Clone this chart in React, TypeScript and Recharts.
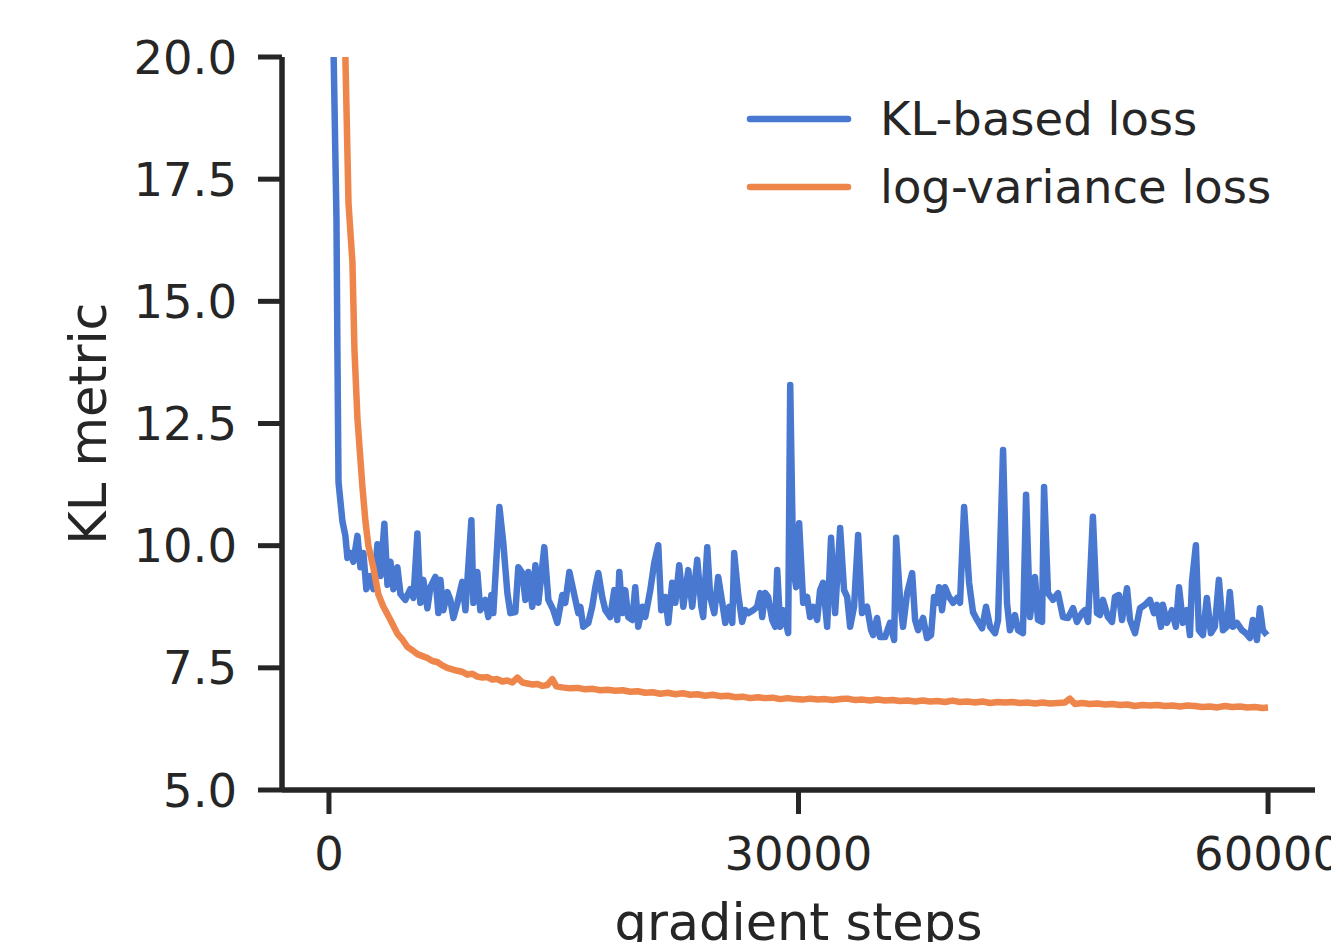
import { LineChart, Line, XAxis, YAxis, Legend } from "recharts";

const klSteps = [
  60, 290, 480, 540, 610, 860, 1050, 1180, 1370, 1560, 1820, 2010, 2200, 2390, 2650, 2840, 3100, 3290, 3540, 3740,
  3930, 4120, 4370, 4570, 4880, 5200, 5400, 5650, 5840, 6030, 6290, 6480, 6800, 6990, 7120, 7310, 7570, 7760, 7950,
  8210, 8520, 8720, 9100, 9230, 9480, 9670, 9990, 10180, 10380, 10500, 10890, 11140, 11400, 11590, 11910, 12100,
  12360, 12550, 12740, 12990, 13190, 13380, 13760, 14020, 14340, 14590, 14910, 15100, 15360, 15610, 15930, 16060,
  16250, 16570, 16820, 17020, 17210, 17460, 17660, 17970, 18230, 18420, 18550, 18740, 18930, 19120, 19380, 19570,
  19760, 20020, 20210, 20530, 20780, 21040, 21230, 21490, 21680, 21930, 22130, 22380, 22640, 22960, 23210, 23530,
  23790, 23910, 24170, 24360, 24620, 24870, 25130, 25320, 25570, 25770, 25890, 26150, 26400, 26600, 26790, 27110,
  27360, 27550, 27680, 27870, 28060, 28320, 28510, 28640, 28830, 29020, 29340, 29470, 29660, 29850, 30040, 30300,
  30550, 30740, 30940, 31190, 31380, 31570, 31830, 32080, 32340, 32660, 32910, 33110, 33300, 33550, 33810, 34060,
  34380, 34640, 34770, 35020, 35210, 35530, 35850, 36110, 36240, 36490, 36680, 36940, 37260, 37450, 37640, 37960,
  38210, 38470, 38660, 38850, 38980, 39170, 39360, 39620, 39880, 40130, 40320, 40580, 40900, 41150, 41410, 41730,
  41980, 42240, 42560, 42750, 43070, 43320, 43510, 43830, 44030, 44340, 44540, 44790, 45110, 45300, 45560, 45690,
  45940, 46260, 46580, 46900, 47220, 47540, 47790, 48110, 48300, 48500, 48810, 49070, 49260, 49450, 49770, 50030,
  50220, 50470, 50670, 50990, 51180, 51500, 51820, 52140, 52450, 52710, 52900, 53160, 53280, 53540, 53860, 54110,
  54310, 54560, 54820, 55010, 55140, 55390, 55580, 55840, 56090, 56350, 56600, 56860, 57120, 57370, 57560, 57750,
  58010, 58330, 58580, 58840, 59030, 59290, 59480, 59670, 59930,
];
const klValues = [
  50, 20.2, 16.7, 14.0, 11.3, 10.5, 10.2, 9.75, 9.85, 9.67, 10.2, 9.56, 9.85, 9.11, 9.38, 9.11, 10.03, 9.38, 10.45, 9.2,
  9.67, 9.11, 9.56, 9.01, 8.89, 9.11, 8.93, 10.25, 8.83, 9.3, 8.72, 9.15, 9.36, 8.62, 9.3, 8.68, 9.05, 8.89, 8.52,
  8.83, 9.26, 8.68, 10.52, 8.83, 9.46, 8.68, 8.89, 8.54, 8.99, 8.62, 10.79, 10.05, 9.03, 8.62, 8.64, 9.56,
  9.44, 8.89, 9.46, 8.75, 9.6, 8.83, 9.97, 8.89, 8.68, 8.42, 8.99, 8.83, 9.46, 9.09, 8.62, 8.75,
  8.34, 8.42, 8.75, 9.15, 9.44, 8.95, 8.68, 8.54, 9.09, 8.48, 9.46, 8.62, 9.09, 8.54, 8.48, 9.15,
  8.34, 8.75, 8.54, 9.09, 9.64, 10.01, 8.68, 8.95, 8.42, 9.24, 8.83, 9.6, 8.75, 9.5, 8.75, 9.71,
  8.75, 8.54, 9.97, 8.95, 8.62, 9.36, 8.83, 8.42, 8.75, 8.42, 9.85, 8.99, 8.44, 8.68, 8.62, 8.68,
  8.75, 9.03, 8.54, 9.03, 8.95, 8.48, 8.34, 9.5, 8.34, 8.68, 8.21, 13.29, 9.56, 9.15, 10.46, 8.83,
  8.95, 8.54, 8.75, 8.48, 9.09, 9.24, 8.34, 10.16, 8.62, 10.36, 9.09, 8.95, 8.34, 8.75, 10.22, 8.62,
  8.75, 8.27, 8.17, 8.52, 8.13, 8.13, 8.42, 8.07, 10.16, 8.89, 8.34, 9.03, 9.44, 8.48, 8.27, 8.52,
  8.11, 8.17, 8.95, 8.83, 9.15, 8.68, 9.15, 8.95, 8.83, 8.93, 8.83, 10.79, 9.24, 8.64, 8.48, 8.31,
  8.75, 8.34, 8.21, 8.48, 11.96, 8.83, 8.27, 8.58, 8.27, 8.21, 11.04, 8.54, 9.36, 8.48, 8.44, 11.2,
  9.03, 8.89, 9.03, 8.54, 8.52, 8.72, 8.44, 8.62, 8.68, 8.44, 10.59, 8.62, 8.58, 8.89, 8.54, 8.44,
  8.95, 8.99, 8.48, 9.13, 8.48, 8.21, 8.72, 8.79, 8.89, 8.62, 8.79, 8.34, 8.79, 8.42, 8.68, 8.34,
  9.15, 8.42, 8.68, 8.17, 9.26, 10.01, 8.27, 8.17, 8.93, 8.21, 8.34, 9.3, 8.27, 8.34, 9.05, 8.34,
  8.42, 8.27, 8.21, 8.11, 8.48, 8.07, 8.72, 8.27, 8.17,
];

const lvSteps = [
  800, 1050, 1250, 1500, 1630, 1820, 2140, 2330, 2520, 2840, 3160, 3480, 3930, 4370, 4690, 5010, 5330, 5650, 5970,
  6290, 6610, 6920, 7240, 7560, 7880, 8200, 8520, 8840, 9160, 9480, 9800, 10120, 10440, 10760, 11080, 11400, 11720,
  12040, 12360, 12680, 13000, 13320, 13640, 13960, 14270, 14530, 14900, 15420, 15900, 16380, 16860, 17330, 17810,
  18290, 18770, 19250, 19730, 20210, 20690, 21170, 21650, 22130, 22600, 23080, 23560, 24040, 24520, 25000, 25480,
  25960, 26430, 26910, 27390, 27870, 28350, 28830, 29310, 29790, 30270, 30740, 31220, 31700, 32180, 32660, 33140,
  33620, 34100, 34570, 35050, 35530, 36010, 36490, 36970, 37450, 37930, 38410, 38890, 39360, 39840, 40320, 40800,
  41280, 41760, 42240, 42720, 43200, 43670, 44150, 44630, 45110, 45590, 46070, 46550, 47030, 47340, 47660, 48140,
  48620, 49100, 49580, 50060, 50530, 51010, 51490, 51970, 52450, 52930, 53410, 53890, 54370, 54840, 55320, 55800,
  56280, 56760, 57240, 57720, 58200, 58680, 59160, 59640, 60000,
];
const lvValues = [
  28, 20.0, 17.0, 15.8, 14.0, 12.6, 11.2, 10.5, 10.0, 9.55, 9.0, 8.75, 8.48, 8.2, 8.08, 7.93, 7.86, 7.78, 7.74,
  7.7, 7.64, 7.62, 7.55, 7.5, 7.47, 7.44, 7.42, 7.36, 7.38, 7.32, 7.3, 7.31, 7.26, 7.27, 7.22, 7.24, 7.2,
  7.3, 7.2, 7.18, 7.16, 7.17, 7.13, 7.15, 7.27, 7.12, 7.1, 7.08, 7.09, 7.06, 7.07, 7.04, 7.05,
  7.03, 7.04, 7.01, 7.02, 6.99, 7.0, 6.97, 6.99, 6.96, 6.98, 6.95, 6.96, 6.93, 6.95, 6.92, 6.93,
  6.9, 6.91, 6.88, 6.9, 6.88, 6.89, 6.86, 6.88, 6.86, 6.85, 6.87, 6.85, 6.86, 6.84, 6.86, 6.87,
  6.84, 6.85, 6.83, 6.85, 6.83, 6.84, 6.82, 6.83, 6.81, 6.83, 6.81, 6.82, 6.8, 6.83, 6.8, 6.81,
  6.79, 6.81, 6.78, 6.8, 6.79, 6.8, 6.78, 6.79, 6.77, 6.79, 6.77, 6.78, 6.79, 6.87, 6.76, 6.78,
  6.76, 6.77, 6.75, 6.76, 6.74, 6.75, 6.72, 6.74, 6.73, 6.74, 6.72, 6.73, 6.71, 6.73, 6.72, 6.7,
  6.71, 6.69, 6.72, 6.7, 6.71, 6.69, 6.7, 6.68, 6.69,
];

const xTicks = [0, 30000, 60000];
const yTicks = [5, 7.5, 10, 12.5, 15, 17.5, 20];

const klData = klSteps.map((step, i) => ({ step, value: klValues[i] }));
const lvData = lvSteps.map((step, i) => ({ step, value: lvValues[i] }));

const FONT = "'DejaVu Sans', sans-serif";
const INK = "#262626";
const LINE_W = 6.5;

const renderLegend = (props: any) => {
  const items = props.payload || [];
  return (
    <div style={{ position: "relative", width: 580, height: 230, fontFamily: FONT, fontSize: 46.5, color: INK }}>
      {items.map((entry: any, i: number) => (
        <div
          key={entry.value}
          style={{ position: "absolute", left: 0, top: 89 + i * 68, height: 60, display: "flex", whiteSpace: "nowrap" }}
        >
          <svg width={110} height={60} style={{ display: "block" }}>
            <line x1={5} x2={103} y1={30} y2={30} stroke={entry.color} strokeWidth={LINE_W} strokeLinecap="round" />
          </svg>
          <span style={{ marginLeft: 25, lineHeight: "60px" }}>{entry.value}</span>
        </div>
      ))}
    </div>
  );
};

const renderYLabel = (props: any) => {
  const vb = props.viewBox;
  const cx = 106;
  const cy = vb.y + vb.height / 2;
  return (
    <text x={cx} y={cy} transform={`rotate(-90 ${cx} ${cy})`} textAnchor="middle" fontFamily={FONT} fontSize={51} fill={INK}>
      KL metric
    </text>
  );
};

const renderXLabel = (props: any) => {
  const vb = props.viewBox;
  return (
    <text x={vb.x + vb.width / 2} y={940} textAnchor="middle" fontFamily={FONT} fontSize={51} fill={INK}>
      gradient steps
    </text>
  );
};

export default function App() {
  const tickStyle = { fontSize: 46.5, fill: INK, fontFamily: FONT };
  return (
    <div style={{ width: 1331, height: 942, background: "#fff" }}>
      <style>{"body{margin:0;overflow:hidden;} .recharts-line-curve{stroke-width:6.5px;stroke-linejoin:round;}"}</style>
      <LineChart width={1331} height={942} margin={{ top: 57, right: 16, bottom: 0, left: 0 }}>
        <XAxis
          dataKey="step"
          type="number"
          domain={[-3000, 63000]}
          ticks={xTicks}
          interval={0}
          allowDataOverflow
          height={152}
          tickSize={24}
          tickMargin={23}
          stroke={INK}
          axisLine={{ stroke: INK, strokeWidth: 5.5 }}
          tickLine={{ stroke: INK, strokeWidth: 5 }}
          tick={tickStyle}
          label={{ content: renderXLabel }}
        />
        <YAxis
          type="number"
          domain={[5, 20]}
          ticks={yTicks}
          interval={0}
          allowDataOverflow
          width={282}
          tickSize={24}
          tickMargin={21}
          stroke={INK}
          axisLine={{ stroke: INK, strokeWidth: 5.5 }}
          tickLine={{ stroke: INK, strokeWidth: 5 }}
          tick={tickStyle}
          tickFormatter={(v: number) => v.toFixed(1)}
          label={{ content: renderYLabel }}
        />
        <Legend
          layout="vertical"
          align="center"
          verticalAlign="middle"
          content={renderLegend}
          wrapperStyle={{ top: 0, left: 745, width: 580, height: 230 }}
        />
        <Line
          data={klData}
          dataKey="value"
          name="KL-based loss"
          type="linear"
          stroke="#4878d0"
          strokeWidth={LINE_W}
          strokeLinejoin="round"
          dot={false}
          activeDot={false}
          isAnimationActive={false}
        />
        <Line
          data={lvData}
          dataKey="value"
          name="log-variance loss"
          type="linear"
          stroke="#ee854a"
          strokeWidth={LINE_W}
          strokeLinejoin="round"
          dot={false}
          activeDot={false}
          isAnimationActive={false}
        />
      </LineChart>
    </div>
  );
}
